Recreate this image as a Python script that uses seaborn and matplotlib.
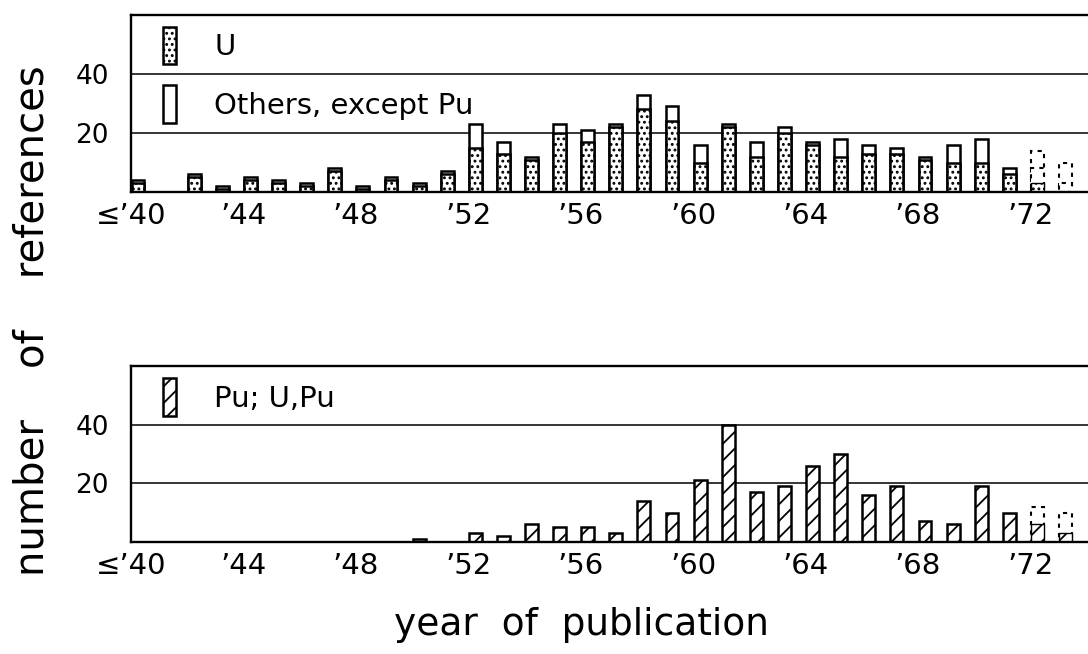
import numpy as np
import pandas as pd
import matplotlib
matplotlib.use('Agg')
import matplotlib.pyplot as plt
import matplotlib.patches as mpatches
import seaborn as sns

# counts per year of publication (40 stands for "40 and earlier")
years = list(range(40, 72))
u_counts = [3, 0, 5, 1, 4, 3, 2, 7, 1, 4, 2, 6, 15, 13, 11, 20,
            17, 22, 28, 24, 10, 22, 12, 20, 16, 12, 13, 13, 11, 10, 10, 6]
total_counts = [4, 0, 6, 2, 5, 4, 3, 8, 2, 5, 3, 7, 23, 17, 12, 23,
                21, 23, 33, 29, 16, 23, 17, 22, 17, 18, 16, 15, 12, 16, 18, 8]
pu_counts = [0, 0, 0, 0, 0, 0, 0, 0, 0, 0, 1, 0, 3, 2, 6, 5,
             5, 3, 14, 10, 21, 40, 17, 19, 26, 30, 16, 19, 7, 6, 19, 10]

# incomplete years: counted part plus dashed estimate
est_years = [72, 73]
est_u_counted = [3, 0]
est_u = [8, 3]
est_total = [14, 10]
est_pu_counted = [6, 3]
est_pu = [12, 10]

tick_years = [40, 44, 48, 52, 56, 60, 64, 68, 72]
tick_labels = ["≤’40", "’44", "’48", "’52", "’56", "’60", "’64", "’68", "’72"]
y_ticks = [20, 40]

sns.set_theme(style='white')
plt.rcParams['font.family'] = ['DejaVu Sans']
plt.rcParams['text.color'] = 'black'
plt.rcParams['xtick.color'] = 'black'
plt.rcParams['ytick.color'] = 'black'
plt.rcParams['hatch.linewidth'] = 1.3
plt.rcParams['hatch.color'] = 'black'

BAR_W = 0.46
DOTS = '...'
STRIPES = '//'


def draw_bars(ax, x, y, **kw):
    df = pd.DataFrame({'x': np.array(x) + 0.25, 'y': y})
    df = df[df['y'] > 0]
    sns.barplot(data=df, x='x', y='y', native_scale=True, width=BAR_W,
                errorbar=None, saturation=1, ax=ax, **kw)


fig = plt.figure(figsize=(10.88, 6.54), dpi=100)
ax_top = fig.add_axes([0.1204, 0.7064, 0.8796, 0.2706])
ax_bot = fig.add_axes([0.1204, 0.1713, 0.8796, 0.2690])

edge = dict(edgecolor='black', linewidth=1.8)
dashed = dict(color='white', edgecolor='black', linewidth=1.5,
              linestyle=(0, (2, 2.5)))

# top panel: U stacked under others
draw_bars(ax_top, years, total_counts, color='white', **edge)
draw_bars(ax_top, years, u_counts, color='white', hatch=DOTS, **edge)
draw_bars(ax_top, est_years, est_total, **dashed)
draw_bars(ax_top, est_years, est_u, **dashed)
draw_bars(ax_top, est_years, est_u_counted, color='white', hatch=DOTS,
          edgecolor='black', linewidth=1.0)

# bottom panel: Pu
draw_bars(ax_bot, years, pu_counts, color='white', hatch=STRIPES, **edge)
draw_bars(ax_bot, est_years, est_pu, **dashed)
draw_bars(ax_bot, est_years, est_pu_counted, color='white', hatch=STRIPES,
          edgecolor='black', linewidth=1.0)

for ax in (ax_top, ax_bot):
    ax.set_xlim(40, 74.05)
    ax.set_ylim(0, 60)
    ax.set(xlabel='', ylabel='')
    ax.set_xticks(tick_years)
    ax.set_xticklabels(tick_labels)
    ax.set_xticks(np.arange(42, 74, 4), minor=True)
    ax.set_yticks(y_ticks)
    ax.set_yticklabels([str(v) for v in y_ticks])
    ax.grid(False)
    for v in y_ticks:
        ax.axhline(v, color='black', linewidth=1.1, zorder=0)
    for s in ('left', 'bottom', 'top'):
        ax.spines[s].set_visible(True)
        ax.spines[s].set_color('black')
        ax.spines[s].set_linewidth(1.7)
    ax.spines['right'].set_visible(False)
    ax.tick_params(axis='x', which='both', direction='inout', length=7,
                   width=1.5, color='black', labelcolor='black',
                   labelsize=21, pad=4)
    ax.tick_params(axis='y', length=0, labelsize=19, pad=16,
                   labelcolor='black')
    ax.set_facecolor('white')

u_patch = mpatches.Patch(facecolor='white', edgecolor='black', hatch=DOTS, linewidth=1.8)
o_patch = mpatches.Patch(facecolor='white', edgecolor='black', linewidth=1.8)
pu_patch = mpatches.Patch(facecolor='white', edgecolor='black', hatch=STRIPES, linewidth=1.8)

leg_kw = dict(loc='upper left', frameon=False, fontsize=21, borderpad=0,
              handlelength=0.45, handleheight=1.6, handletextpad=1.33,
              borderaxespad=0)
ax_top.legend([u_patch, o_patch], ['U', 'Others, except Pu'],
              bbox_to_anchor=(0.033, 0.935), labelspacing=0.73, **leg_kw)
ax_bot.legend([pu_patch], ['Pu; U,Pu'],
              bbox_to_anchor=(0.033, 0.93), **leg_kw)

fig.text(0.030, 0.510, 'number    of    references', rotation=90,
         ha='center', va='center', fontsize=29)
fig.text(0.534, 0.044, 'year  of  publication', ha='center', va='center',
         fontsize=27)

fig.savefig('out.png', dpi=100, facecolor='white')
